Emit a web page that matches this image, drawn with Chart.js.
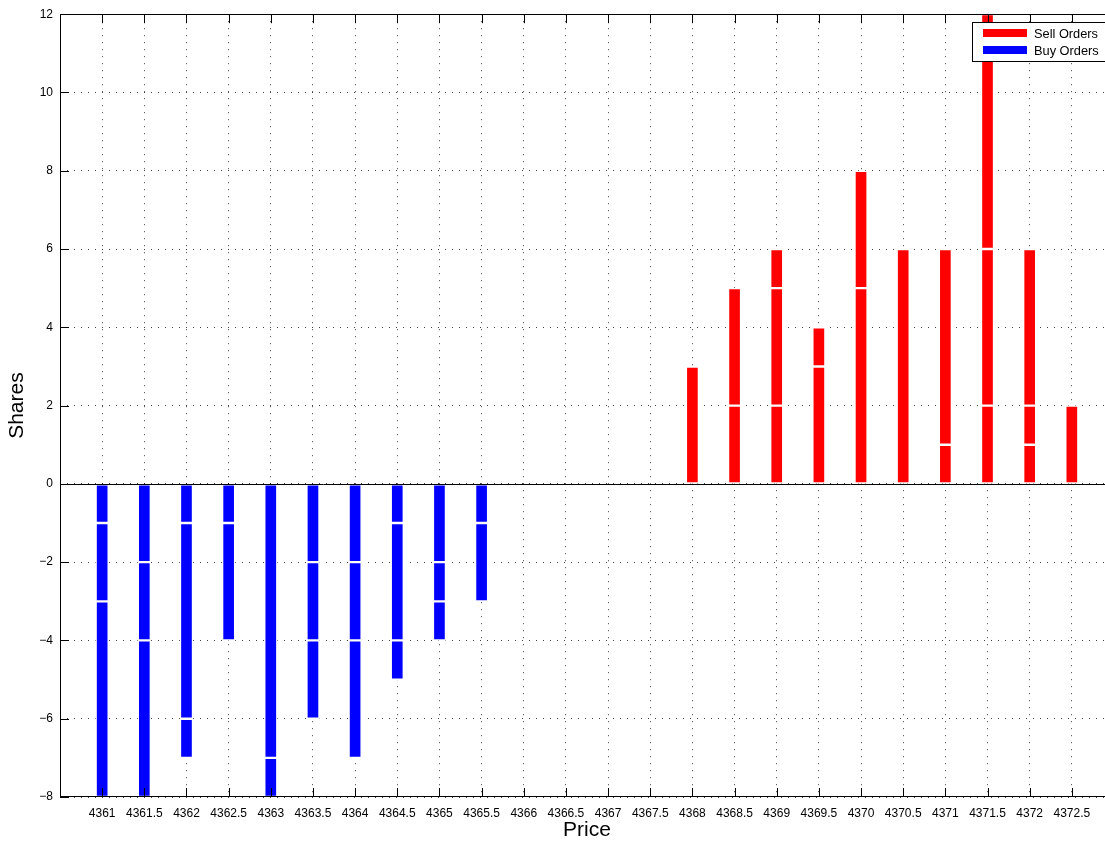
<!DOCTYPE html>
<html>
<head>
<meta charset="utf-8">
<script src="https://cdn.jsdelivr.net/npm/chart.js@4.4.0/dist/chart.umd.min.js"></script>
<style>
  html, body { margin: 0; padding: 0; background: #fff; overflow: hidden; }
  #wrap { width: 1125px; height: 841px; }
</style>
</head>
<body>
<div id="wrap"><canvas id="cnv" width="1125" height="841"></canvas></div>
<script>
// price levels on the x axis
var prices = [4361, 4361.5, 4362, 4362.5, 4363, 4363.5, 4364, 4364.5, 4365, 4365.5,
              4366, 4366.5, 4367, 4367.5, 4368, 4368.5, 4369, 4369.5, 4370, 4370.5,
              4371, 4371.5, 4372, 4372.5];

// order sizes at each price, stacked from the zero line outwards
var buyOrders = [[1, 2, 5], [2, 2, 4], [1, 5, 1], [1, 3], [7, 1], [2, 2, 2], [2, 2, 3], [1, 3, 1], [2, 1, 1], [1, 2],
                 [], [], [], [], [], [], [], [], [], [], [], [], [], []];
var sellOrders = [[], [], [], [], [], [], [], [], [], [], [], [], [], [],
                  [3], [2, 3], [2, 3, 1], [3, 1], [5, 3], [6], [1, 5], [2, 4, 6], [1, 1, 4], [2]];

var yMin = -8, yMax = 12, yStep = 2;
var xMin = 4360.5, xMax = 4373;

var FONT = "'Liberation Sans', Arial, Helvetica, sans-serif";

function layer(orders, i, sign) {
  return prices.map(function(p, k) {
    var v = orders[k][i];
    return { x: p, y: v === undefined ? null : sign * v };
  });
}

var datasets = [];
for (var i = 0; i < 3; i++) {
  datasets.push({ label: 'Sell Orders', data: layer(sellOrders, i, 1), backgroundColor: '#ff0000' });
}
for (var i = 0; i < 3; i++) {
  datasets.push({ label: 'Buy Orders', data: layer(buyOrders, i, -1), backgroundColor: '#0000ff' });
}
datasets.forEach(function(d) {
  d.borderColor = '#ffffff';
  d.borderWidth = 1.5;
  d.borderSkipped = false;
  d.barThickness = 13;
  d.stack = 'orders';
});

function seg(ctx, x1, y1, x2, y2) {
  ctx.beginPath(); ctx.moveTo(x1, y1); ctx.lineTo(x2, y2); ctx.stroke();
}

// matlab style box, inner ticks, zero line and legend
var frame = {
  id: 'frame',
  afterDatasetsDraw: function(chart) {
    var ctx = chart.ctx, a = chart.chartArea, x = chart.scales.x, y = chart.scales.y;
    ctx.save();
    ctx.strokeStyle = '#000';
    ctx.lineWidth = 1;
    var y0 = Math.round(y.getPixelForValue(0)) + 0.5;
    seg(ctx, a.left, y0, a.right, y0);
    prices.forEach(function(p) {
      var px = Math.round(x.getPixelForValue(p)) + 0.5;
      seg(ctx, px, a.bottom, px, a.bottom - 9);
      seg(ctx, px, a.top, px, a.top + 9);
    });
    y.ticks.forEach(function(t) {
      var py = Math.round(y.getPixelForValue(t.value)) + 0.5;
      seg(ctx, a.left, py, a.left + 9, py);
      seg(ctx, a.right, py, a.right - 9, py);
    });
    ctx.strokeRect(Math.round(a.left) + 0.5, Math.round(a.top) + 0.5, Math.round(a.width) - 1, Math.round(a.height) - 1);

    // legend
    var lx = 972, ly = 22, lw = 136, lh = 39;
    ctx.fillStyle = '#fff';
    ctx.fillRect(lx, ly, lw, lh);
    ctx.strokeRect(lx + 0.5, ly + 0.5, lw, lh);
    var items = [['Sell Orders', '#ff0000', 33], ['Buy Orders', '#0000ff', 50]];
    ctx.font = '12.8px ' + FONT;
    ctx.textBaseline = 'middle';
    items.forEach(function(it) {
      ctx.fillStyle = it[1];
      ctx.fillRect(983, it[2] - 4, 44, 8);
      ctx.fillStyle = '#000';
      ctx.fillText(it[0], 1034, it[2] + 1);
    });
    ctx.restore();
  }
};

var Cnvs = document.getElementById('cnv').getContext('2d');
var barChart = new Chart(Cnvs, {
  type: 'bar',
  data: { datasets: datasets },
  options: {
    responsive: false,
    animation: false,
    layout: { padding: { top: 14, right: 11, left: 0, bottom: 0 } },
    plugins: { legend: { display: false }, tooltip: { enabled: false } },
    scales: {
      x: {
        type: 'linear',
        stacked: true,
        offset: false,
        min: xMin,
        max: xMax,
        afterBuildTicks: function(axis) {
          axis.ticks = prices.map(function(p) { return { value: p }; });
        },
        afterFit: function(scale) { scale.height = 44; },
        grid: { color: 'rgba(0,0,0,0.75)', drawTicks: false, offset: false },
        border: { display: false, dash: [1, 6] },
        ticks: {
          autoSkip: false,
          maxRotation: 0,
          padding: 9,
          color: '#000',
          font: { family: FONT, size: 12 },
          callback: function(v) { return String(v); }
        },
        title: {
          display: true,
          text: 'Price',
          color: '#000',
          padding: 0,
          font: { family: FONT, size: 21, lineHeight: 1 }
        }
      },
      y: {
        stacked: true,
        min: yMin,
        max: yMax,
        afterFit: function(scale) { scale.width = 60; },
        grid: { color: 'rgba(0,0,0,0.75)', drawTicks: false },
        border: { display: false, dash: [1, 6] },
        ticks: {
          stepSize: yStep,
          padding: 7,
          color: '#000',
          font: { family: FONT, size: 12 },
          callback: function(v) { return String(v).replace('-', '\u2212'); }
        },
        title: {
          display: true,
          text: 'Shares',
          color: '#000',
          padding: { top: 7, bottom: 0 },
          font: { family: FONT, size: 21, lineHeight: 1 }
        }
      }
    }
  },
  plugins: [frame]
});
</script>
</body>
</html>
